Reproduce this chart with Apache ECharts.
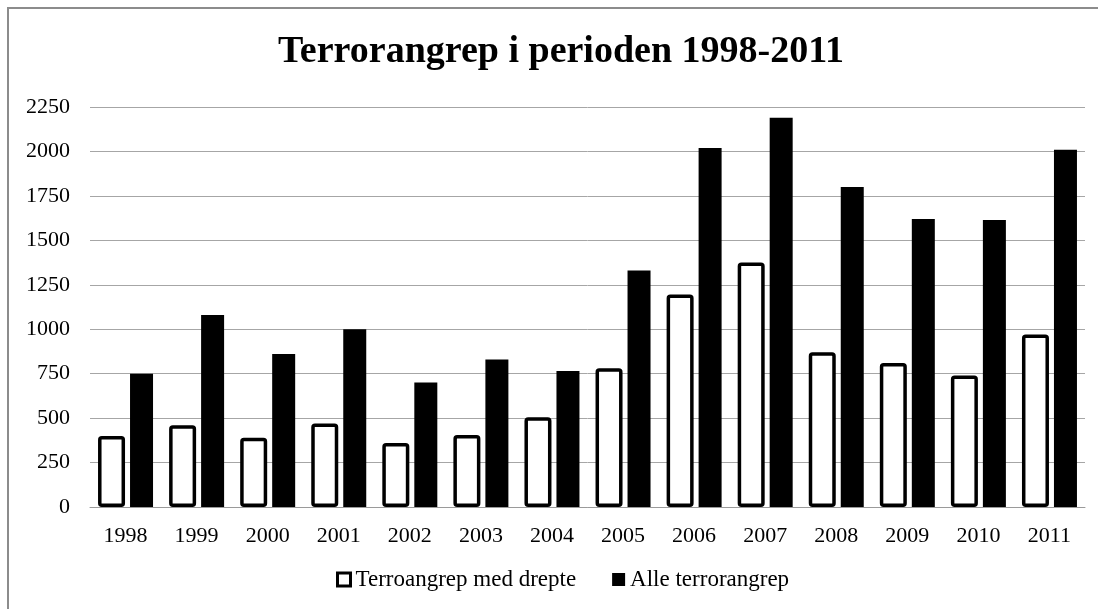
<!DOCTYPE html>
<html>
<head>
<meta charset="utf-8">
<title>Terrorangrep</title>
<script src="https://cdn.jsdelivr.net/npm/echarts@6/dist/echarts.min.js"></script>
<style>
  html, body { margin: 0; padding: 0; background: #fff; }
  #chart { width: 1098px; height: 609px; }
</style>
</head>
<body>
<div id="chart"></div>
<script>
  // data
  var years = ['1998', '1999', '2000', '2001', '2002', '2003', '2004',
    '2005', '2006', '2007', '2008', '2009', '2010', '2011'];
  var medDrepte = [400, 460, 390, 470, 360, 405, 505, 780, 1195, 1375, 870, 810, 740, 970];
  var alleAngrep = [750, 1080, 860, 1000, 700, 830, 765, 1330, 2020, 2190, 1800, 1620, 1615, 2010];
  var yTicks = [0, 250, 500, 750, 1000, 1250, 1500, 1750, 2000, 2250];

  var serif = '"Liberation Serif", "Times New Roman", serif';

  var chart = echarts.init(document.getElementById('chart'));

  let option = {
    backgroundColor: '#fff',
    animation: false,
    textStyle: { fontFamily: serif, color: '#000' },
    graphic: [{
      // frame round the chart, cut off at right and bottom
      type: 'rect',
      shape: { x: 8, y: 8, width: 1200, height: 700 },
      style: { fill: 'none', stroke: '#8c8c8c', lineWidth: 2 },
      silent: true
    }],
    title: {
      text: 'Terrorangrep i perioden 1998-2011',
      left: 273,
      top: 28,
      textStyle: { fontFamily: serif, fontSize: 38, fontWeight: 'bold', color: '#000' }
    },
    legend: {
      bottom: 13,
      left: 331,
      itemWidth: 13,
      itemHeight: 13,
      itemGap: 36,
      textStyle: { fontFamily: serif, fontSize: 23, color: '#000' },
      data: [
        { name: 'Terroangrep med drepte', icon: 'rect',
          itemStyle: { color: '#fff', borderColor: '#000', borderWidth: 3 } },
        { name: 'Alle terrorangrep', icon: 'rect',
          itemStyle: { color: '#000', borderWidth: 0 } }
      ]
    },
    grid: { left: 90, right: 13, top: 107, bottom: 102 },
    xAxis: {
      type: 'category',
      data: years,
      axisTick: { show: false },
      axisLine: { lineStyle: { color: '#9a9a9a', width: 1 } },
      axisLabel: { fontFamily: serif, fontSize: 22, color: '#000', margin: 18 }
    },
    yAxis: {
      type: 'value',
      min: yTicks[0],
      max: yTicks[yTicks.length - 1],
      interval: 250,
      axisLine: { show: false },
      axisTick: { show: false },
      splitLine: { lineStyle: { color: '#a6a6a6', width: 1 } },
      axisLabel: {
        fontFamily: serif, fontSize: 22, color: '#000', margin: 20,
        formatter: function (v) { return String(v); }
      }
    },
    series: [{
      name: 'Terroangrep med drepte',
      type: 'bar',
      barWidth: 27,
      barGap: '18.5%',
      itemStyle: {
        color: '#fff',
        borderColor: '#000',
        borderWidth: 3.5,
        borderRadius: 2
      },
      data: medDrepte
    }, {
      name: 'Alle terrorangrep',
      type: 'bar',
      barWidth: 23,
      barGap: '18.5%',
      itemStyle: { color: '#000' },
      data: alleAngrep
    }]
  };

  chart.setOption(option);
  window.addEventListener('resize', () => {
    chart.resize();
  });
</script>
</body>
</html>
